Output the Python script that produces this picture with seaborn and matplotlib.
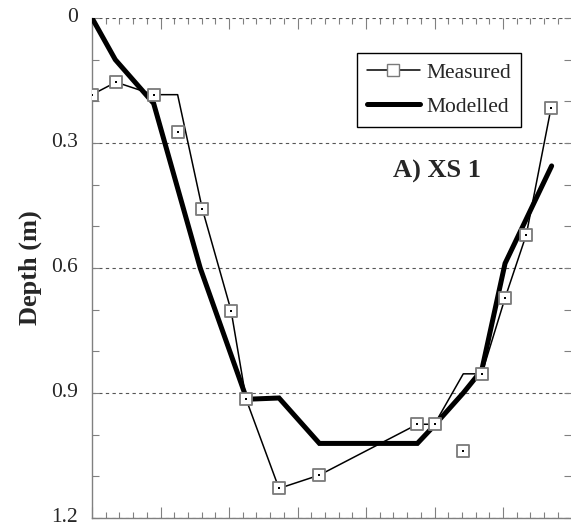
import matplotlib
matplotlib.use("Agg")
import matplotlib.pyplot as plt
import matplotlib.transforms as mtransforms
import seaborn as sns
import pandas as pd
from matplotlib.lines import Line2D
from matplotlib.ticker import MultipleLocator, FixedLocator, FixedFormatter

# ---- data ----
measured_x = [0.0, 0.35, 0.90, 1.25, 1.61, 2.03, 2.25, 2.73, 3.32, 4.75, 5.00, 5.42, 5.69, 6.03, 6.34, 6.70]
measured_line_depth = [0.184, 0.154, 0.184, 0.184, 0.458, 0.702, 0.915, 1.129, 1.097, 0.975, 0.975, 0.854, 0.854, 0.672, 0.520, 0.217]
measured_point_depth = [0.184, 0.154, 0.184, 0.274, 0.458, 0.702, 0.915, 1.129, 1.097, 0.975, 0.975, 1.038, 0.854, 0.672, 0.520, 0.217]

modelled_x = [0.0, 0.34, 0.90, 1.58, 2.26, 2.73, 3.32, 4.75, 4.98, 5.42, 5.69, 6.03, 6.71]
modelled_depth = [0.0, 0.10, 0.205, 0.60, 0.915, 0.912, 1.021, 1.021, 0.981, 0.900, 0.845, 0.589, 0.355]

depth_ticks = [0, 0.3, 0.6, 0.9, 1.2]
depth_tick_labels = ["0", "0.3", "0.6", "0.9", "1.2"]
series_labels = ["Measured", "Modelled"]
panel_title = "A) XS 1"
y_label = "Depth (m)"

# ---- style ----
sns.set_theme(style="white")
plt.rcParams["font.family"] = ["Liberation Serif", "DejaVu Serif"]

fig = plt.figure(figsize=(5.71, 5.28), dpi=100)
ax = fig.add_axes([92 / 571, 10 / 528, 479 / 571, 500 / 528])

meas_line = pd.DataFrame({"x": measured_x, "depth": measured_line_depth})
meas_pts = pd.DataFrame({"x": measured_x, "depth": measured_point_depth})
model = pd.DataFrame({"x": modelled_x, "depth": modelled_depth})

sns.lineplot(data=meas_line, x="x", y="depth", sort=False, estimator=None,
             color="black", linewidth=1.1, ax=ax, zorder=3)
sns.lineplot(data=model, x="x", y="depth", sort=False, estimator=None,
             color="black", linewidth=3.6, ax=ax, zorder=4,
             solid_joinstyle="miter")
sns.scatterplot(data=meas_pts, x="x", y="depth", marker="s", s=75,
                facecolor="white", edgecolor="#7a7a7a", linewidth=1.3,
                ax=ax, zorder=5)
sns.scatterplot(data=meas_pts, x="x", y="depth", marker="s", s=2.5,
                color="black", linewidth=0, ax=ax, zorder=6)

ax.set_xlim(0, 479 / 68.5)
ax.set_ylim(1.2, 0)

ax.yaxis.set_major_locator(FixedLocator(depth_ticks))
ax.yaxis.set_major_formatter(FixedFormatter(depth_tick_labels))
ax.yaxis.set_minor_locator(MultipleLocator(0.1))
ax.xaxis.set_major_locator(MultipleLocator(1))
ax.xaxis.set_minor_locator(MultipleLocator(0.2))

ax.grid(axis="y", which="major", linestyle=(0, (3, 3)), color="#555555", linewidth=0.8)
ax.set_axisbelow(True)

ax.tick_params(axis="y", which="both", direction="in", left=True, right=True,
               length=5, width=0.8, color="#808080", labelsize=15.5, pad=10)
shift_up = mtransforms.ScaledTranslation(0, 3 / 100, fig.dpi_scale_trans)
for lbl in ax.get_yticklabels():
    lbl.set_verticalalignment("center_baseline")
    lbl.set_transform(lbl.get_transform() + shift_up)
ax.tick_params(axis="x", which="major", direction="in", top=True, bottom=True,
               length=8, width=0.8, color="#808080", labelbottom=False)
ax.tick_params(axis="x", which="minor", direction="in", top=True, bottom=True,
               length=4, width=0.8, color="#808080")

for side in ["top", "right"]:
    ax.spines[side].set_visible(False)
for side in ["left", "bottom"]:
    ax.spines[side].set_color("#808080")
    ax.spines[side].set_linewidth(1.0)

ax.set_xlabel("")
ax.set_ylabel(y_label, fontsize=19, fontweight="bold")
ax.yaxis.set_label_coords(-0.104, 0.5)

ax.text(0.72, 0.68, panel_title, transform=ax.transAxes, ha="center",
        va="baseline", fontsize=19, fontweight="bold")

handles = [
    Line2D([], [], color="black", linewidth=1.1, marker="s", markersize=8,
           markerfacecolor="white", markeredgecolor="#7a7a7a", markeredgewidth=1.0),
    Line2D([], [], color="black", linewidth=3.6),
]
leg = ax.legend(handles, series_labels, loc="upper left",
                bbox_to_anchor=(0.553, 0.93), borderaxespad=0, frameon=True,
                fancybox=False, framealpha=1, edgecolor="black",
                fontsize=15.5, handlelength=2.5, handletextpad=0.3,
                labelspacing=0.65, borderpad=0.45)
leg.get_frame().set_linewidth(1.0)

fig.savefig("out.png", dpi=100)
